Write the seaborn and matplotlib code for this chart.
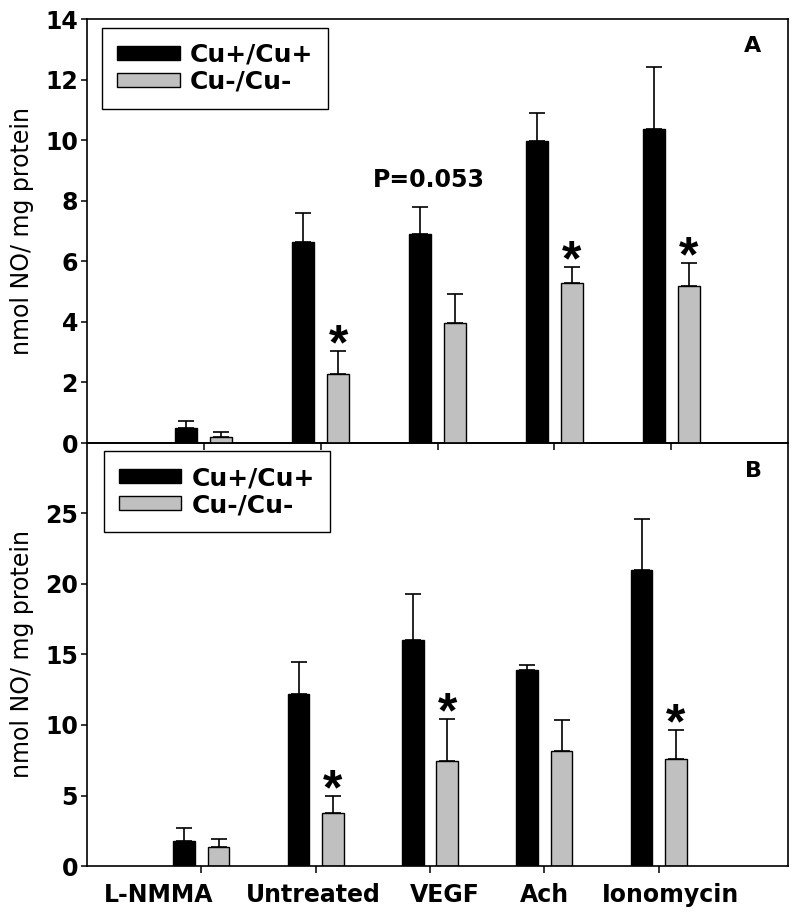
import numpy as np
import pandas as pd
import matplotlib
matplotlib.use("Agg")
import matplotlib.pyplot as plt
import seaborn as sns
from matplotlib.patches import Patch
from matplotlib.container import BarContainer
from matplotlib.transforms import ScaledTranslation, offset_copy

# ---------------- data ----------------
categories = ["L-NMMA", "Untreated", "VEGF", "Ach", "Ionomycin"]
groups = ["Cu+/Cu+", "Cu-/Cu-"]

a_cu_pos = [0.48, 6.65, 6.90, 9.96, 10.37]
a_cu_pos_err = [0.25, 0.95, 0.89, 0.92, 2.03]
a_cu_neg = [0.21, 2.27, 3.97, 5.29, 5.18]
a_cu_neg_err = [0.16, 0.76, 0.95, 0.53, 0.75]
a_sig = [False, True, False, True, True]

b_cu_pos = [1.77, 12.23, 16.00, 13.93, 20.96]
b_cu_pos_err = [0.90, 2.24, 3.31, 0.34, 3.64]
b_cu_neg = [1.32, 3.73, 7.46, 8.17, 7.56]
b_cu_neg_err = [0.59, 1.23, 3.00, 2.22, 2.12]
b_sig = [False, True, True, False, True]

a_yticks = [0, 2, 4, 6, 8, 10, 12, 14]
b_yticks = [0, 5, 10, 15, 20, 25]
ylabel = "nmol NO/ mg protein"
p_text = "P=0.053"
p_value_y = 8.7

colors = {"Cu+/Cu+": "#000000", "Cu-/Cu-": "#C0C0C0"}
BOLD = dict(family="DejaVu Sans", weight="bold")

sns.set_style("white")
plt.rcParams.update({
    "text.color": "black",
    "axes.labelcolor": "black",
    "xtick.color": "black",
    "ytick.color": "black",
    "axes.edgecolor": "black",
})

fig = plt.figure(figsize=(8, 9.18), dpi=100)
ax1 = fig.add_axes([0.10875, 0.5174, 0.87625, 0.4619])
ax2 = fig.add_axes([0.10875, 0.05664, 0.87625, 0.4608])
ax2.set_facecolor("none")
ax1.set_zorder(3)
ax1.set_facecolor("none")


def panel(ax, pos, pos_err, neg, neg_err, sig, ylim, yticks, xlim, letter, letter_xy, leg_anchor):
    df = pd.DataFrame({
        "category": categories * 2,
        "group": [groups[0]] * len(categories) + [groups[1]] * len(categories),
        "value": list(pos) + list(neg),
    })
    sns.barplot(data=df, x="category", y="value", hue="group", order=categories,
                hue_order=groups, palette=colors, saturation=1, width=0.6, gap=0.37,
                edgecolor="black", linewidth=1.0, errorbar=None, legend=False, ax=ax)
    errs = [pos_err, neg_err]
    bar_conts = [c for c in ax.containers if isinstance(c, BarContainer)]
    for gi, cont in enumerate(bar_conts):
        for bar in list(cont.patches):
            xc = bar.get_x() + bar.get_width() / 2
            h = bar.get_height()
            idx = int(round(xc))
            e = errs[gi][idx]
            ax.errorbar(xc, h, yerr=[[0], [e]], fmt="none", ecolor="black",
                        elinewidth=1.2, capsize=6, capthick=1.2, zorder=1)
            if gi == 1 and sig[idx]:
                fs = 36
                tr = offset_copy(ax.transData, fig=fig, x=0, y=14.5 - 0.57 * fs, units="points")
                ax.text(xc, h + e, "*", transform=tr, ha="center", va="baseline",
                        fontsize=fs, family="Liberation Sans", weight="bold", color="black")
    ax.set_xlim(*xlim)
    ax.set_ylim(*ylim)
    ax.set_yticks(yticks)
    ax.set_yticklabels([str(t) for t in yticks], fontsize=17, color="black", **BOLD)
    ax.set_xlabel("")
    ax.set_ylabel(ylabel, fontsize=17, family="DejaVu Sans", color="black")
    ax.yaxis.set_label_coords(-0.0756, 0.5)
    for s in ax.spines.values():
        s.set_visible(True)
        s.set_color("black")
        s.set_linewidth(1.2)
    ax.tick_params(axis="y", direction="out", left=True, length=4.5, width=1.1, pad=2, colors="black")
    ax.tick_params(axis="x", direction="out", bottom=True, length=5, width=1.1, pad=7, colors="black")
    ax.text(letter_xy[0], letter_xy[1], letter, transform=ax.transAxes, ha="center",
            va="center", fontsize=16, color="black", **BOLD)
    handles = [Patch(facecolor=colors[g], edgecolor="black", linewidth=1.0, label=g) for g in groups]
    leg = ax.legend(handles=handles, loc="upper left", bbox_to_anchor=leg_anchor,
                    borderaxespad=0, frameon=True, fancybox=False, framealpha=1,
                    edgecolor="black", prop=dict(size=18, **BOLD), handlelength=2.5,
                    handleheight=0.5, handletextpad=0.4, labelspacing=0.12, borderpad=0.6)
    for t in leg.get_texts():
        t.set_color("black")
    leg.get_frame().set_linewidth(1.0)


panel(ax1, a_cu_pos, a_cu_pos_err, a_cu_neg, a_cu_neg_err, a_sig, (0, 14), a_yticks,
      (-1, 5), "A", (0.949, 0.9375), (0.0214, 0.979))
ax1.set_xticks(range(len(categories)))
ax1.tick_params(axis="x", labelbottom=False)
ax1.text(categories.index("VEGF"), p_value_y, p_text,
         transform=offset_copy(ax1.transData, fig=fig, x=-6, y=0, units="points"),
         ha="center", va="center", fontsize=17, color="black", **BOLD)

panel(ax2, b_cu_pos, b_cu_pos_err, b_cu_neg, b_cu_neg_err, b_sig, (0, 30), b_yticks,
      (-1, 5.13), "B", (0.951, 0.934), (0.024, 0.981))
ax2.set_xticks(range(len(categories)))
ax2.set_xticklabels(categories, fontsize=17, color="black", **BOLD)
label_dx_px = [-43, -2, 15, 0, 12]
for lab, dx in zip(ax2.get_xticklabels(), label_dx_px):
    lab.set_transform(lab.get_transform() + ScaledTranslation(dx / 100, 0, fig.dpi_scale_trans))

fig.savefig("out.png", dpi=100, facecolor="white")
